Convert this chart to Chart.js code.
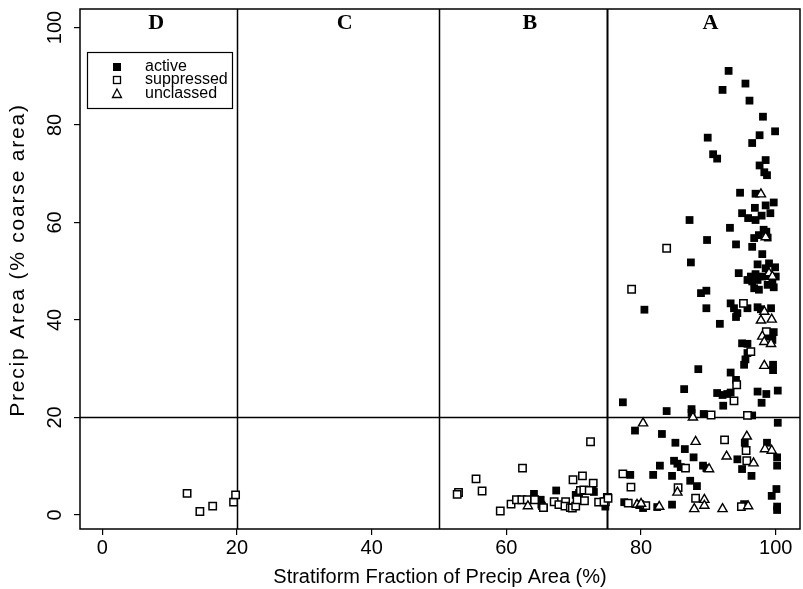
<!DOCTYPE html>
<html>
<head>
<meta charset="utf-8">
<script src="https://cdn.jsdelivr.net/npm/chart.js@4.4.1/dist/chart.umd.min.js"></script>
<style>
  html, body { margin: 0; padding: 0; background: #fff; }
</style>
</head>
<body>
<canvas id="precip" width="803" height="589"></canvas>
<script>
// stratiform fraction (%) / precip area (% coarse area) for each case
const active = [
  [93.0,91.1],[95.5,88.5],[92.1,87.2],[96.1,85.0],[98.1,81.7],[99.9,78.7],[89.9,77.4],[97.6,77.9],
  [96.5,76.3],[90.7,74.0],[91.3,73.1],[98.5,72.8],[97.6,71.7],[98.3,70.3],[98.7,69.7],[94.7,66.1],
  [97.0,65.9],[99.7,64.1],[98.5,63.5],[96.9,63.0],[99.2,61.9],[95.0,61.9],[95.9,60.9],[97.0,60.5],
  [97.9,61.4],[93.2,58.9],[98.2,58.5],[98.6,58.1],[97.5,57.4],[96.8,56.8],[98.8,56.9],[89.8,56.4],
  [94.1,55.5],[96.5,55.0],[98.0,53.5],[97.3,51.4],[99.0,51.6],[99.9,50.8],[98.5,50.6],[94.5,49.6],
  [96.3,48.9],[97.0,49.4],[98.0,48.9],[99.0,49.0],[87.2,60.5],[87.4,51.8],[95.8,48.2],[96.5,47.9],
  [97.3,48.2],[96.8,46.5],[97.5,46.2],[99.7,46.7],[99.5,47.5],[98.8,47.2],[100.0,48.9],[88.9,45.5],
  [89.7,46.0],[80.5,42.1],[89.7,42.4],[93.3,43.4],[93.8,42.4],[94.3,41.4],[94.1,40.6],[95.8,42.4],
  [97.3,42.6],[97.8,42.2],[99.3,42.4],[91.7,39.2],[99.7,37.5],[98.8,36.6],[99.5,35.9],[95.0,35.2],
  [95.8,35.1],[95.8,33.2],[95.5,31.9],[95.3,30.8],[99.6,30.8],[99.6,29.7],[88.5,29.9],[93.3,29.2],
  [94.1,27.7],[86.4,25.8],[97.3,25.3],[98.6,24.8],[100.3,25.5],[91.3,25.0],[92.1,24.6],[92.8,24.8],
  [93.3,25.1],[77.3,23.1],[92.2,22.4],[97.9,23.0],[83.8,21.3],[87.5,21.7],[87.5,20.9],[89.3,20.7],
  [96.5,20.4],[100.3,18.9],[79.1,17.3],[83.1,16.6],[85.1,14.8],[95.4,14.8],[98.7,14.8],[86.5,13.5],
  [87.8,11.8],[94.3,11.4],[100.2,11.8],[100.2,10.1],[84.9,11.1],[85.4,10.5],[85.9,9.8],[82.8,10.1],
  [89.2,10.1],[89.7,9.6],[95.0,9.4],[78.4,8.2],[81.8,8.2],[84.6,8.0],[96.4,8.0],[87.3,7.0],
  [88.3,5.9],[100.1,5.3],[99.4,3.9],[74.7,1.7],[77.5,2.6],[80.3,1.4],[82.4,1.6],[84.6,2.1],
  [95.3,2.2],[100.2,1.7],[100.2,1.0],
  [64.1,4.3],[65.1,3.1],[65.2,2.1],[65.6,1.4],[65.3,1.8],[67.4,5.0],[70.3,4.1],[70.8,4.5],
  [72.8,5.1],[73.0,4.7]
];
const suppressed = [
  [83.8,54.7],[78.6,46.3],[95.2,43.4],[98.6,37.6],[96.3,33.5],[94.2,26.7],[93.8,23.4],[90.4,20.5],
  [95.8,20.4],[92.4,15.4],[95.6,13.2],[95.7,11.1],[86.6,9.6],[77.3,8.4],[78.5,5.7],[85.5,5.6],
  [88.1,3.4],[75.0,3.6],[74.7,2.7],[78.1,2.4],[80.7,1.9],[79.8,2.1],[94.9,1.7],
  [52.9,4.6],[52.7,4.2],[55.5,7.4],[56.4,4.9],[59.1,0.8],[60.7,2.2],[61.5,3.1],[62.3,3.1],
  [63.1,3.1],[62.4,9.6],[64.2,3.1],[65.5,1.5],[67.1,2.7],[67.8,2.1],[68.8,2.7],[68.7,1.8],
  [69.5,1.5],[69.8,1.4],[70.3,1.8],[69.9,7.2],[71.3,8.0],[72.9,6.5],[70.5,3.1],[71.0,5.0],
  [71.5,5.1],[72.3,5.0],[71.6,2.9],[73.7,2.6],[74.5,2.7],[75.1,3.4],[72.5,15.0],
  [12.6,4.4],[14.5,0.7],[16.4,1.8],[19.5,2.6],[19.8,4.1]
];
const unclassed = [
  [97.8,65.8],[98.5,57.0],[99.0,49.6],[99.5,48.9],[98.3,41.7],[97.8,39.9],[99.4,40.1],[98.0,36.6],
  [98.3,35.5],[99.3,35.1],[98.3,30.6],[87.7,20.0],[80.3,18.8],[95.7,16.1],[88.1,15.0],[98.4,13.5],
  [99.4,13.2],[92.7,12.0],[96.7,10.6],[90.1,9.4],[85.4,4.6],[89.4,3.1],[89.4,1.9],[87.9,1.2],
  [79.4,2.1],[80.0,2.3],[82.7,1.7],[92.1,1.2],[95.9,1.8],[63.2,1.8]
];

const xTicks = [0, 20, 40, 60, 80, 100];
const yTicks = [0, 20, 40, 60, 80, 100];
const classBreaks = [20, 50, 75];   // stratiform fraction boundaries
const areaBreak = 20;               // precip area boundary
const regionNames = ['D', 'C', 'B', 'A'];
const regionCentres = [8, 36, 63.5, 90.3];
const seriesNames = ['active', 'suppressed', 'unclassed'];
const yTitle = 'Precip Area (% coarse area)';

const toPts = arr => arr.map(p => ({x: p[0], y: p[1]}));
const sans = 'Liberation Sans, Arial, sans-serif';

// box, dividing lines, region letters, y title and the key
const decor = {
  id: 'decor',
  beforeDatasetsDraw(chart) {
    const {ctx, chartArea: a, scales: {x, y}} = chart;
    ctx.save();
    ctx.strokeStyle = '#000';
    classBreaks.forEach((v, i) => {
      const px = Math.round(x.getPixelForValue(v)) + 0.5;
      ctx.lineWidth = i === 2 ? 2 : 1.5;
      ctx.beginPath(); ctx.moveTo(px, a.top); ctx.lineTo(px, a.bottom); ctx.stroke();
    });
    const py = Math.round(y.getPixelForValue(areaBreak)) + 0.5;
    ctx.lineWidth = 1.5;
    ctx.beginPath(); ctx.moveTo(a.left, py); ctx.lineTo(a.right, py); ctx.stroke();
    ctx.restore();
  },
  afterDraw(chart) {
    const {ctx, chartArea: a, scales: {x, y}} = chart;
    ctx.save();
    ctx.strokeStyle = '#000';
    ctx.lineWidth = 1.5;
    ctx.strokeRect(a.left, a.top, a.right - a.left, a.bottom - a.top);

    ctx.fillStyle = '#000';
    ctx.font = 'bold 22px Liberation Serif, Times New Roman, serif';
    ctx.textAlign = 'center';
    ctx.textBaseline = 'middle';
    regionNames.forEach((n, i) => {
      ctx.fillText(n, x.getPixelForValue(regionCentres[i]), a.top + 14);
    });

    // y title, spaced out a little
    ctx.save();
    ctx.translate(18, (a.top + a.bottom) / 2 - 9);
    ctx.rotate(-Math.PI / 2);
    ctx.font = '21px ' + sans;
    ctx.letterSpacing = '1.8px';
    ctx.fillText(yTitle, 0, 0);
    ctx.restore();

    // key
    const kx = a.left + 7, ky = a.top + 43, kw = 145, kh = 56;
    ctx.lineWidth = 1.2;
    ctx.strokeRect(kx + 0.5, ky + 0.5, kw, kh);
    const rows = [ky + 15, ky + 28, ky + 42];
    const sx = kx + 30;
    // filled square
    ctx.fillRect(sx - 4, rows[0] - 4, 8, 8);
    // open square
    ctx.lineWidth = 1.3;
    ctx.strokeRect(sx - 3.5, rows[1] - 3.5, 7, 7);
    // triangle
    ctx.beginPath();
    ctx.moveTo(sx, rows[2] - 5); ctx.lineTo(sx + 4.5, rows[2] + 3.5); ctx.lineTo(sx - 4.5, rows[2] + 3.5);
    ctx.closePath(); ctx.stroke();
    ctx.font = '16px ' + sans;
    ctx.textAlign = 'left';
    seriesNames.forEach((n, i) => ctx.fillText(n, kx + 58, rows[i]));
    ctx.restore();
  }
};

new Chart(document.getElementById('precip'), {
  type: 'scatter',
  data: {
    datasets: [
      {label: seriesNames[0], data: toPts(active), order: 3,
       pointStyle: 'rect', pointRadius: 5.5, backgroundColor: '#000', borderColor: '#000', borderWidth: 0},
      {label: seriesNames[1], data: toPts(suppressed), order: 2,
       pointStyle: 'rect', pointRadius: 5.2, backgroundColor: '#fff', borderColor: '#000', borderWidth: 1.5},
      {label: seriesNames[2], data: toPts(unclassed), order: 1,
       pointStyle: 'triangle', pointRadius: 5.3, backgroundColor: '#fff', borderColor: '#000', borderWidth: 1.4}
    ]
  },
  options: {
    responsive: false,
    animation: false,
    layout: {autoPadding: false, padding: {top: 9, right: 3, left: 0, bottom: 0}},
    plugins: {legend: {display: false}, tooltip: {enabled: false}},
    elements: {point: {hoverRadius: 5}},
    scales: {
      x: {
        type: 'linear', min: -3.3, max: 103.6,
        afterFit: s => { s.height = 60; s.paddingLeft = 0; s.paddingRight = 0; },
        afterBuildTicks: s => { s.ticks = xTicks.map(v => ({value: v})); },
        ticks: {color: '#000', font: {family: sans, size: 20}, padding: 1, includeBounds: false},
        grid: {drawOnChartArea: false, drawTicks: true, tickLength: 6, color: '#000', lineWidth: 1.2},
        border: {display: false},
        title: {display: true, text: 'Stratiform Fraction of Precip Area (%)', color: '#000',
                font: {family: sans, size: 20}, padding: {top: 0, bottom: 0}}
      },
      y: {
        type: 'linear', min: -2.9, max: 103.8,
        afterFit: s => { s.width = 80; s.paddingTop = 0; s.paddingBottom = 0; },
        afterBuildTicks: s => { s.ticks = yTicks.map(v => ({value: v})); },
        ticks: {color: '#000', font: {family: sans, size: 20}, padding: 2, minRotation: 90, maxRotation: 90,
                crossAlign: 'center', includeBounds: false},
        grid: {drawOnChartArea: false, drawTicks: true, tickLength: 6, color: '#000', lineWidth: 1.2},
        border: {display: false},
        title: {display: false}
      }
    }
  },
  plugins: [decor]
});
</script>
</body>
</html>
